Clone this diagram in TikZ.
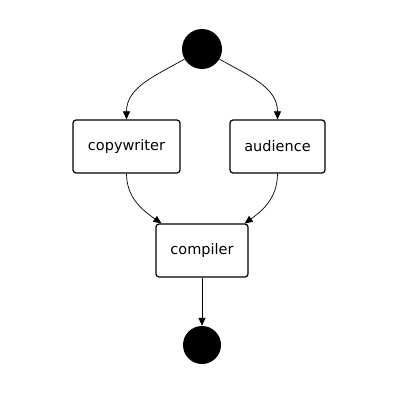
\documentclass[tikz,border=0pt]{standalone}
\usepackage{fontspec}
\setmainfont{DejaVu Sans}
\usetikzlibrary{arrows.meta}
\tikzset{
  act/.style={draw,line width=1.2pt,rounded corners=3pt,fill=white,minimum height=53pt,inner sep=0pt,font=\fontsize{14.5}{16}\selectfont},
  dot/.style={circle,fill=black,inner sep=0pt},
  flow/.style={line width=0.7pt,-{Triangle[length=8pt,width=7pt]}}
}
\begin{document}
\begin{tikzpicture}[x=1pt,y=-1pt]
\useasboundingbox[fill=white] (0,0) rectangle (420,393);
\node[dot,minimum size=40pt] (start) at (202,49) {};
\node[act,minimum width=107pt] (copy) at (126.5,146.5) {copywriter};
\node[act,minimum width=95pt] (aud) at (277.5,146.5) {audience};
\node[act,minimum width=92pt] (comp) at (202,250.5) {compiler};
\node[dot,minimum size=38pt] (stop) at (202,345) {};
\draw[flow] (start) to[out=-150,in=90] (copy.north);
\draw[flow] (start) to[out=-30,in=90] (aud.north);
\draw[flow] (copy.south) to[out=-90,in=145] ([xshift=6pt]comp.north west);
\draw[flow] (aud.south) to[out=-90,in=35] ([xshift=-4pt]comp.north east);
\draw[flow] (comp.south) -- (stop.north);
\end{tikzpicture}
\end{document}
